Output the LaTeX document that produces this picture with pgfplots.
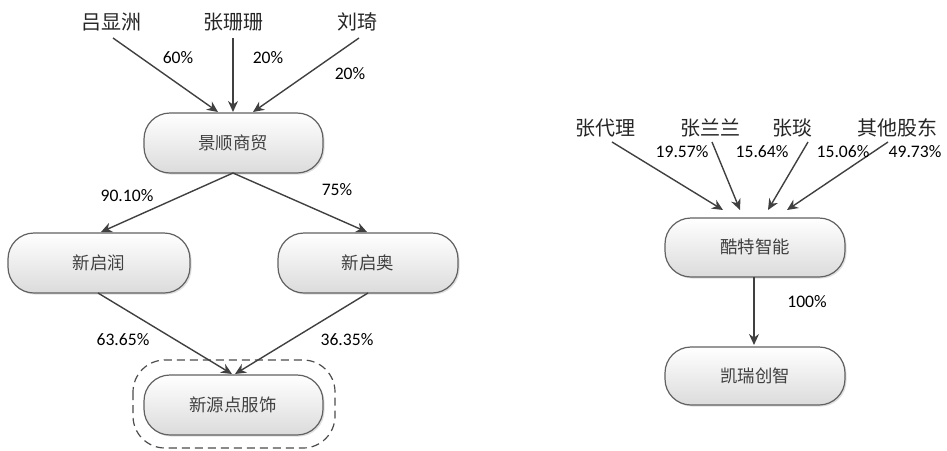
\documentclass[border=0pt]{standalone}
\usepackage{pgfplots}
\pgfplotsset{compat=1.18}
\usepackage{fontspec}
\setmainfont{Carlito}
\newfontfamily\cjk{Noto Sans CJK SC}
\usetikzlibrary{arrows.meta,shadows}
\begin{document}
\begin{tikzpicture}[
  box/.style={draw=black!62, line width=0.6pt, rounded corners=13pt, top color=white, bottom color=black!14,
    drop shadow={opacity=0.25, shadow xshift=0.8pt, shadow yshift=-0.8pt}},
  nm/.style={font=\cjk\fontsize{10pt}{12pt}\selectfont, text=black!85},
  bx/.style={font=\cjk\fontsize{8.7pt}{10pt}\selectfont, text=black!75},
  pc/.style={font=\fontsize{8.8pt}{10pt}\selectfont, text=black},
]
\begin{axis}[width=473.5pt,height=225pt,scale only axis,
  xmin=0,xmax=947,ymin=0,ymax=450,y dir=reverse,hide axis,clip=false]
\addplot[draw=none,forget plot] coordinates {(0,0)(947,450)};
% boxes
\draw[box] (axis cs:144,113) rectangle (axis cs:323,173);
\draw[box] (axis cs:8,233) rectangle (axis cs:190,293);
\draw[box] (axis cs:278,233) rectangle (axis cs:458,293);
\draw[box] (axis cs:144,375) rectangle (axis cs:323,435);
\draw[black!70, line width=0.6pt, dash pattern=on 4pt off 2.5pt, rounded corners=16pt] (axis cs:133,360) rectangle (axis cs:335,448);
\draw[box] (axis cs:665,218) rectangle (axis cs:845,277);
\draw[box] (axis cs:665,347) rectangle (axis cs:845,405);
% arrows
\tikzset{arr/.style={black!75, no markers, solid, line width=0.7pt, -{Stealth[length=5.5pt,width=5pt]}}}
\addplot[arr] coordinates {(113,38)(218,112)};
\addplot[arr] coordinates {(233,38)(233,112)};
\addplot[arr] coordinates {(359,38)(253,112)};
\addplot[arr] coordinates {(233,173)(101,232)};
\addplot[arr] coordinates {(233,173)(367,232)};
\addplot[arr] coordinates {(98,293)(232,374)};
\addplot[arr] coordinates {(368,293)(235,374)};
\addplot[arr] coordinates {(612,142)(723,210)};
\addplot[arr] coordinates {(712,142)(740,210)};
\addplot[arr] coordinates {(808,142)(768,210)};
\addplot[arr] coordinates {(888,142)(787,210)};
\addplot[arr] coordinates {(754,277)(754,345)};
% names
\node[nm] at (axis cs:111,22) {吕显洲};
\node[nm] at (axis cs:233,22) {张珊珊};
\node[nm] at (axis cs:357,22) {刘琦};
\node[nm] at (axis cs:605,128) {张代理};
\node[nm] at (axis cs:710,128) {张兰兰};
\node[nm] at (axis cs:792,128) {张琰};
\node[nm] at (axis cs:897,128) {其他股东};
% box labels
\node[bx] at (axis cs:233,143) {景顺商贸};
\node[bx] at (axis cs:99,263) {新启润};
\node[bx] at (axis cs:368,263) {新启奥};
\node[bx] at (axis cs:233,405) {新源点服饰};
\node[bx] at (axis cs:755,247) {酷特智能};
\node[bx] at (axis cs:755,376) {凯瑞创智};
% percents
\node[pc] at (axis cs:178,58) {60\%};
\node[pc] at (axis cs:268,58) {20\%};
\node[pc] at (axis cs:350,74) {20\%};
\node[pc] at (axis cs:127,196) {90.10\%};
\node[pc] at (axis cs:337,190) {75\%};
\node[pc] at (axis cs:123,340) {63.65\%};
\node[pc] at (axis cs:347,340) {36.35\%};
\node[pc] at (axis cs:682,152) {19.57\%};
\node[pc] at (axis cs:762,152) {15.64\%};
\node[pc] at (axis cs:843,152) {15.06\%};
\node[pc] at (axis cs:915,152) {49.73\%};
\node[pc] at (axis cs:807,302) {100\%};
\end{axis}
\pgfresetboundingbox
\path[use as bounding box] (current axis.south west) rectangle (current axis.north east);
\end{tikzpicture}
\end{document}
